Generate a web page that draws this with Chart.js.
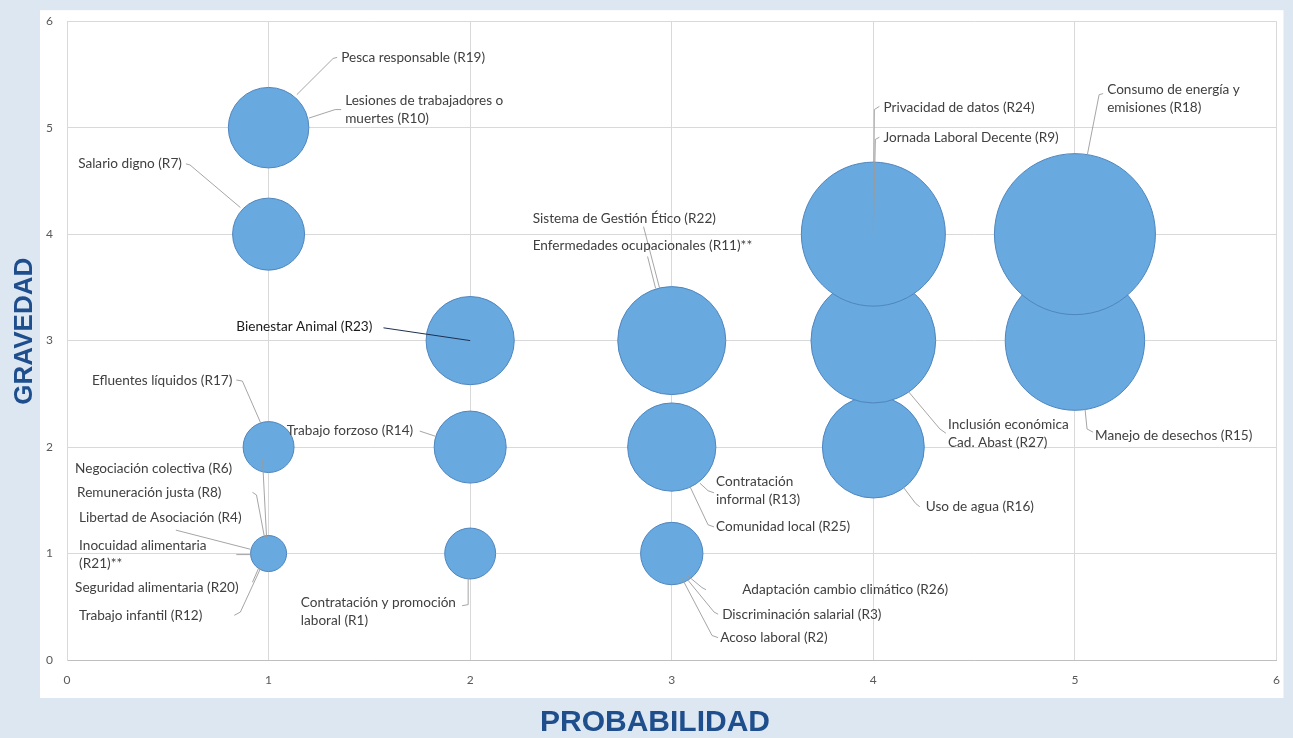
<!DOCTYPE html>
<html>
<head>
<meta charset="utf-8">
<script src="https://cdn.jsdelivr.net/npm/chart.js@4.4.1/dist/chart.umd.min.js"></script>
<style>
  html, body { margin: 0; padding: 0; background: #dde7f2; }
  canvas { display: block; }
</style>
</head>
<body>
<canvas id="chart" width="1293" height="738"></canvas>
<script>
// Matriz de riesgos: probabilidad (x), gravedad (y), tamaño = nivel de riesgo
const probabilidad = [1, 2, 3, 1, 2, 3, 4, 2, 3, 4, 5, 1, 4, 5, 1];
const gravedad     = [1, 1, 1, 2, 2, 2, 2, 3, 3, 3, 3, 4, 4, 4, 5];
const nivel        = [1, 2, 3, 2, 4, 6, 8, 6, 9, 12, 15, 4, 16, 20, 5];

const ticksEjes = [0, 1, 2, 3, 4, 5, 6];

// etiquetas de los riesgos: texto, ancla (coordenadas de datos) y línea guía
const etiquetas = [
    { text: ['Pesca responsable (R19)'], at: [1.36, 5.66], line: [[1.34, 5.66], [1.32, 5.65], [1.14, 5.31]] },
    { text: ['Lesiones de trabajadores o', 'muertes (R10)'], at: [1.38, 5.25], line: [[1.36, 5.17], [1.33, 5.17], [1.20, 5.09]] },
    { text: ['Salario digno (R7)'], at: [0.57, 4.66], align: 'right', line: [[0.59, 4.66], [0.61, 4.65], [0.86, 4.25]] },
    { text: ['Sistema de Gestión Ético (R22)'], at: [2.31, 4.15], line: [[2.86, 4.07], [2.94, 3.49]] },
    { text: ['Enfermedades ocupacionales (R11)**'], at: [2.31, 3.89], line: [[2.88, 3.79], [2.92, 3.49]] },
    { text: ['Privacidad de datos (R24)'], at: [4.05, 5.19], line: [[4.03, 5.20], [4.005, 5.17], [4.0, 4.03]] },
    { text: ['Jornada Laboral Decente (R9)'], at: [4.05, 4.91], line: [[4.03, 4.91], [4.01, 4.89], [4.0, 4.03]] },
    { text: ['Consumo de energía y', 'emisiones (R18)'], at: [5.16, 5.36], line: [[5.14, 5.32], [5.12, 5.31], [5.06, 4.73]] },
    { text: ['Bienestar Animal (R23)'], at: [0.84, 3.13], dark: true, line: [[1.57, 3.12], [2.0, 3.0]] },
    { text: ['Efluentes líquidos (R17)'], at: [0.82, 2.62], align: 'right', line: [[0.84, 2.63], [0.87, 2.62], [0.96, 2.23]] },
    { text: ['Trabajo forzoso (R14)'], at: [1.09, 2.15], line: [[1.75, 2.15], [1.83, 2.10]] },
    { text: ['Negociación colectiva (R6)'], at: [0.04, 1.80], line: [[0.97, 1.88], [0.99, 1.15]] },
    { text: ['Remuneración justa (R8)'], at: [0.05, 1.575], line: [[0.92, 1.575], [0.94, 1.55], [0.98, 1.15]] },
    { text: ['Libertad de Asociación (R4)'], at: [0.06, 1.34], line: [[0.54, 1.22], [0.91, 1.04]] },
    { text: ['Inocuidad alimentaria', '(R21)**'], at: [0.06, 1.07], line: [[0.84, 0.99], [0.91, 0.99]] },
    { text: ['Seguridad alimentaria (R20)'], at: [0.04, 0.68], line: [[0.92, 0.73], [0.95, 0.86]] },
    { text: ['Trabajo infantil (R12)'], at: [0.06, 0.42], line: [[0.83, 0.42], [0.86, 0.45], [0.96, 0.86]] },
    { text: ['Contratación y promoción', 'laboral (R1)'], at: [1.16, 0.54], line: [[1.96, 0.51], [1.99, 0.52], [1.99, 0.77]] },
    { text: ['Contratación', 'informal (R13)'], at: [3.22, 1.68], line: [[3.21, 1.57], [3.18, 1.59], [3.14, 1.66]] },
    { text: ['Comunidad local (R25)'], at: [3.22, 1.25], line: [[3.21, 1.25], [3.18, 1.27], [3.09, 1.63]] },
    { text: ['Inclusión económica', 'Cad. Abast (R27)'], at: [4.37, 2.21], line: [[4.36, 2.13], [4.33, 2.17], [4.17, 2.53]] },
    { text: ['Uso de agua (R16)'], at: [4.26, 1.44], line: [[4.23, 1.44], [4.21, 1.47], [4.15, 1.62]] },
    { text: ['Manejo de desechos (R15)'], at: [5.10, 2.11], line: [[5.09, 2.14], [5.06, 2.17], [5.05, 2.36]] },
    { text: ['Adaptación cambio climático (R26)'], at: [3.35, 0.66], line: [[3.17, 0.66], [3.15, 0.68], [3.08, 0.79]] },
    { text: ['Discriminación salarial (R3)'], at: [3.25, 0.43], line: [[3.23, 0.43], [3.21, 0.45], [3.08, 0.75]] },
    { text: ['Acoso laboral (R2)'], at: [3.24, 0.21], line: [[3.23, 0.21], [3.20, 0.23], [3.05, 0.77]] }
];

const puntos = probabilidad.map((p, i) => ({
    x: p,
    y: gravedad[i],
    r: 18 * Math.sqrt(nivel[i])
}));

const fondoPlugin = {
    id: 'fondo',
    beforeDraw(chart) {
        const { ctx, chartArea: a } = chart;
        ctx.save();
        ctx.fillStyle = '#dde7f2';
        ctx.fillRect(0, 0, chart.width, chart.height);
        ctx.fillStyle = '#ffffff';
        ctx.fillRect(a.left - 27, a.top - 11, (a.right + 7) - (a.left - 27), (a.bottom + 38) - (a.top - 11));
        ctx.restore();
    }
};

const etiquetasPlugin = {
    id: 'etiquetas',
    afterDatasetsDraw(chart) {
        const { ctx, scales: { x, y } } = chart;
        ctx.save();
        etiquetas.forEach(et => {
            ctx.beginPath();
            et.line.forEach(([lx, ly], i) => {
                const px = x.getPixelForValue(lx);
                const py = y.getPixelForValue(ly);
                if (i === 0) ctx.moveTo(px, py); else ctx.lineTo(px, py);
            });
            ctx.strokeStyle = et.dark ? '#1f2f4f' : 'rgba(155,155,155,0.9)';
            ctx.lineWidth = 1;
            ctx.stroke();

            ctx.font = '13.6px Lato';
            ctx.fillStyle = et.dark ? '#1a1a1a' : '#404040';
            ctx.textAlign = et.align || 'left';
            ctx.textBaseline = 'middle';
            const tx = x.getPixelForValue(et.at[0]);
            const ty = y.getPixelForValue(et.at[1]);
            et.text.forEach((t, i) => ctx.fillText(t, tx, ty + i * 18));
        });

        // títulos de los ejes
        const a = chart.chartArea;
        ctx.fillStyle = '#1f4e8d';
        ctx.textAlign = 'center';
        ctx.textBaseline = 'middle';
        ctx.font = 'bold 30px "Liberation Sans"';
        ctx.fillText('PROBABILIDAD', a.left + 588, a.bottom + 63);
        ctx.font = 'bold 26px "Liberation Sans"';
        ctx.translate(a.left - 42, a.top + 310);
        ctx.rotate(-Math.PI / 2);
        ctx.fillText('GRAVEDAD', 0, 0);
        ctx.restore();
    }
};

new Chart(document.getElementById('chart'), {
    type: 'bubble',
    data: {
        datasets: [{
            label: 'Riesgos',
            data: puntos,
            backgroundColor: '#68a9df',
            borderColor: '#4f86bf',
            borderWidth: 1,
            hoverRadius: 0
        }]
    },
    options: {
        responsive: false,
        animation: false,
        devicePixelRatio: 1,
        layout: { autoPadding: false, padding: { top: 19, right: 15, left: 0, bottom: 0 } },
        plugins: {
            legend: { display: false },
            tooltip: { enabled: false }
        },
        scales: {
            x: {
                type: 'linear',
                min: 0,
                max: 6,
                afterBuildTicks: s => { s.ticks = ticksEjes.map(v => ({ value: v })); },
                afterFit: s => { s.height = 78; },
                ticks: { color: '#595959', font: { size: 12, family: 'Lato' }, padding: 13 },
                grid: { color: '#d9d9d9', drawTicks: false },
                border: { color: '#bfbfbf' }
            },
            y: {
                type: 'linear',
                min: 0,
                max: 6,
                afterBuildTicks: s => { s.ticks = ticksEjes.map(v => ({ value: v })); },
                afterFit: s => { s.width = 67; },
                ticks: { color: '#595959', font: { size: 12, family: 'Lato' }, padding: 14 },
                grid: { color: '#d9d9d9', drawTicks: false },
                border: { color: '#d9d9d9' }
            }
        }
    },
    plugins: [fondoPlugin, etiquetasPlugin]
});
</script>
</body>
</html>
